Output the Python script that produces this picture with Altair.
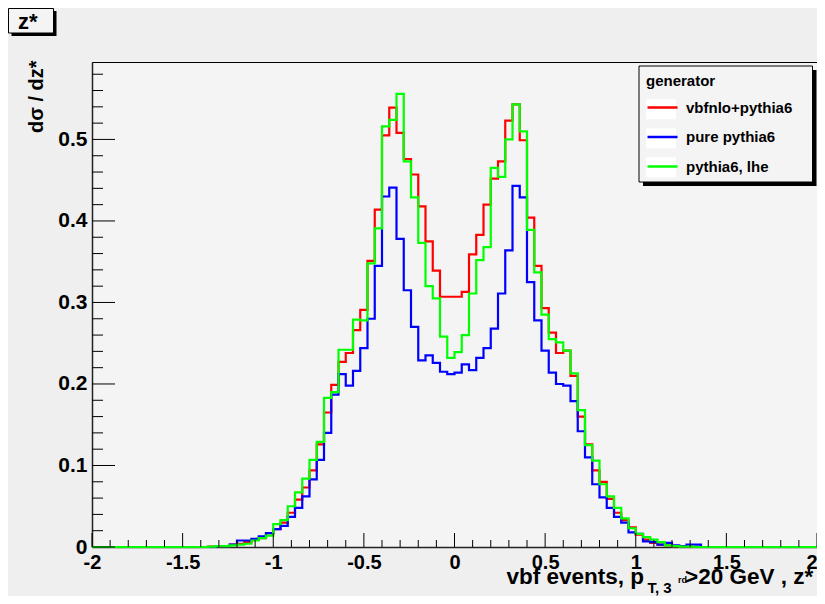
import altair as alt
import pandas as pd

# ---------------- data ----------------
X_MIN, X_MAX = -2.0, 2.0
BIN_WIDTH = 0.04
N_BINS = 100
FIRST_BIN = 15          # first listed bin starts at x = -1.40

SERIES = ["vbfnlo+pythia6", "pure pythia6", "pythia6, lhe"]
COLORS = ["#ff0000", "#0000ff", "#00ff00"]

RED = [0, 0.0005, 0.001, 0.001, 0.003, 0.004, 0.006, 0.009, 0.011, 0.017,
       0.022, 0.030, 0.042, 0.058, 0.073, 0.094, 0.126, 0.165, 0.199, 0.227,
       0.238, 0.266, 0.291, 0.351, 0.414, 0.505, 0.539, 0.508, 0.476, 0.457,
       0.418, 0.375, 0.339, 0.307, 0.307, 0.307, 0.313, 0.359, 0.383, 0.420,
       0.452, 0.473, 0.523, 0.543, 0.499, 0.404, 0.345, 0.293, 0.263, 0.238,
       0.241, 0.210, 0.160, 0.126, 0.094, 0.080, 0.059, 0.042, 0.033, 0.024,
       0.015, 0.009, 0.005, 0.003, 0.002, 0.001, 0.0005, 0, 0, 0]

BLUE = [0, 0, 0.001, 0.001, 0.003, 0.008, 0.008, 0.010, 0.013, 0.017,
        0.022, 0.026, 0.037, 0.048, 0.062, 0.083, 0.107, 0.140, 0.187, 0.212,
        0.198, 0.216, 0.244, 0.280, 0.345, 0.430, 0.441, 0.378, 0.315, 0.270,
        0.229, 0.235, 0.226, 0.215, 0.212, 0.214, 0.224, 0.217, 0.232, 0.244,
        0.268, 0.311, 0.364, 0.443, 0.429, 0.325, 0.278, 0.241, 0.214, 0.200,
        0.198, 0.179, 0.142, 0.110, 0.077, 0.061, 0.048, 0.037, 0.030, 0.018,
        0.016, 0.007, 0.006, 0.003, 0.005, 0.002, 0.001, 0.003, 0.003, 0]

GREEN = [0, 0.0005, 0.001, 0.001, 0.002, 0.003, 0.004, 0.008, 0.011, 0.014,
         0.028, 0.033, 0.050, 0.067, 0.084, 0.107, 0.129, 0.183, 0.190, 0.242,
         0.242, 0.279, 0.278, 0.348, 0.391, 0.516, 0.524, 0.556, 0.473, 0.429,
         0.373, 0.320, 0.305, 0.258, 0.232, 0.239, 0.260, 0.311, 0.352, 0.368,
         0.465, 0.454, 0.500, 0.543, 0.510, 0.389, 0.337, 0.285, 0.255, 0.251,
         0.241, 0.213, 0.168, 0.125, 0.106, 0.077, 0.062, 0.048, 0.035, 0.023,
         0.016, 0.012, 0.009, 0.006, 0.002, 0.001, 0.0005, 0.0005, 0, 0]

X_TICK_LABELS = [-2, -1.5, -1, -0.5, 0, 0.5, 1, 1.5, 2]
Y_TICK_LABELS = [0, 0.1, 0.2, 0.3, 0.4, 0.5]
X_MINOR = [round(-2 + 0.1 * i, 2) for i in range(41) if i % 5 != 0]
Y_MINOR = [round(0.02 * i, 2) for i in range(30) if i % 5 != 0]

TITLE_BOX = "z*"
Y_TITLE = "dσ / dz*"
X_TITLE_MAIN = "vbf events, p"
X_TITLE_SUB = "T, 3"
X_TITLE_SUP = "rd"
X_TITLE_END = ">20 GeV , z*"
LEGEND_TITLE = "generator"

FONT = "Liberation Sans"
W, H = 725, 485

# ---------------- build table ----------------
rows = []
for name, vals in zip(SERIES, [RED, BLUE, GREEN]):
    full = [0.0] * FIRST_BIN + list(vals) + [0.0] * (N_BINS - FIRST_BIN - len(vals))
    for i, v in enumerate(full):
        rows.append({"series": name, "x": round(X_MIN + BIN_WIDTH * i, 4), "y": v})
    rows.append({"series": name, "x": X_MAX, "y": full[-1]})
df = pd.DataFrame(rows)
one = pd.DataFrame({"a": [0]})

xscale = alt.Scale(domain=[X_MIN, X_MAX], nice=False, zero=False)
yscale = alt.Scale(domain=[0, 0.595], nice=False, zero=False)

label_expr = "datum.value < 0 ? '-' + format(-datum.value, '~g') : format(datum.value, '~g')"

xaxis = alt.Axis(values=X_TICK_LABELS, ticks=False, grid=False, title=None,
                 labelExpr=label_expr, labelFont=FONT, labelFontSize=20,
                 labelFontWeight="bold", labelColor="black", labelPadding=5,
                 labelFlush=False, labelOverlap=False, labelBaseline="top",
                 labelAlign={"condition": {"test": "datum.value >= 2", "value": "right"},
                             "value": "center"},
                 domainColor="#222222", domainWidth=1.5)
yaxis = alt.Axis(values=Y_TICK_LABELS, ticks=False, grid=False, title=Y_TITLE,
                 labelExpr=label_expr, labelFont=FONT, labelFontSize=21,
                 labelFontWeight="bold", labelColor="black", labelPadding=5,
                 labelFlush=False, labelOverlap=False,
                 domainColor="#222222", domainWidth=1.5,
                 titleFont=FONT, titleFontSize=20, titleFontWeight="bold",
                 titleColor="black", titleAngle=270, titleAlign="right",
                 titleBaseline="middle", titleX=-56, titleY=-2)

legend = alt.Legend(title=LEGEND_TITLE, orient="none", legendX=547, legendY=5,
                    symbolType="stroke", symbolSize=900, symbolStrokeWidth=2.5,
                    labelFont=FONT, labelFontSize=15, labelFontWeight="bold",
                    labelColor="black", titleFont=FONT, titleFontSize=15,
                    titleFontWeight="bold", titleColor="black", padding=7,
                    titlePadding=2, rowPadding=4.5, labelOffset=7)

# ---------------- layers ----------------
hist = alt.Chart(df).mark_line(interpolate="step-after", strokeWidth=2.2).encode(
    x=alt.X("x:Q", scale=xscale, axis=xaxis),
    y=alt.Y("y:Q", scale=yscale, axis=yaxis),
    color=alt.Color("series:N", scale=alt.Scale(domain=SERIES, range=COLORS),
                    legend=legend),
)

x_major = alt.Chart(pd.DataFrame({"t": X_TICK_LABELS})).mark_rule(color="black", strokeWidth=1).encode(
    x=alt.X("t:Q", scale=xscale, axis=xaxis), y=alt.value(H), y2=alt.value(H - 14))
x_minor = alt.Chart(pd.DataFrame({"t": X_MINOR})).mark_rule(color="black", strokeWidth=1).encode(
    x=alt.X("t:Q", scale=xscale, axis=xaxis), y=alt.value(H), y2=alt.value(H - 7))
y_major = alt.Chart(pd.DataFrame({"t": Y_TICK_LABELS})).mark_rule(color="black", strokeWidth=1).encode(
    y=alt.Y("t:Q", scale=yscale, axis=yaxis), x=alt.value(0), x2=alt.value(23))
y_minor = alt.Chart(pd.DataFrame({"t": Y_MINOR})).mark_rule(color="black", strokeWidth=1).encode(
    y=alt.Y("t:Q", scale=yscale, axis=yaxis), x=alt.value(0), x2=alt.value(11))


def box(x1, x2, y1, y2, fill, stroke=None):
    kw = {"fill": fill}
    if stroke:
        kw.update(stroke=stroke, strokeWidth=1)
    return alt.Chart(one).mark_rect(**kw).encode(
        x=alt.value(x1), x2=alt.value(x2), y=alt.value(y1), y2=alt.value(y2))


legend_shadow = box(551, 724.5, 8, 124, "black")
legend_box = box(547, 720.5, 4, 120, "#f4f4f4", "black")
swatches = [box(554, 584, c - 10, c + 10, "white") for c in (47.3, 76.3, 105.3)]

zbox_shadow = box(-80.5, -35.5, -51, -26, "black")
zbox = box(-83.5, -38.5, -53.5, -29, "#f4f4f4", "black")
ztext = alt.Chart(one).mark_text(align="left", baseline="alphabetic", font=FONT,
                                 fontSize=22, fontWeight="bold", color="black").encode(
    x=alt.value(-74), y=alt.value(-33), text=alt.value(TITLE_BOX))


def label(txt, x, y, size):
    return alt.Chart(one).mark_text(align="left", baseline="alphabetic", font=FONT,
                                    fontSize=size, fontWeight="bold", color="black").encode(
        x=alt.value(x), y=alt.value(y), text=alt.value(txt))


xt1 = label(X_TITLE_MAIN, 414.5, 522, 22.5)
xt2 = label(X_TITLE_SUB, 555.5, 531, 15)
xt3 = label(X_TITLE_SUP, 586, 521, 9)
xt4 = label(X_TITLE_END, 593, 522, 22.5)

chart = alt.layer(
    hist, x_major, x_minor, y_major, y_minor,
    legend_shadow, legend_box, *swatches,
    zbox_shadow, zbox, ztext, xt1, xt2, xt3, xt4,
).properties(
    width=W, height=H,
    autosize=alt.AutoSizeParams(type="none"),
    padding={"left": 84, "top": 54, "right": 0, "bottom": 49},
    background="#efefef",
).configure_view(fill="#f4f4f4", stroke="black", strokeWidth=1)

chart.save("out.html", embed_options={"renderer": "svg", "actions": False})
